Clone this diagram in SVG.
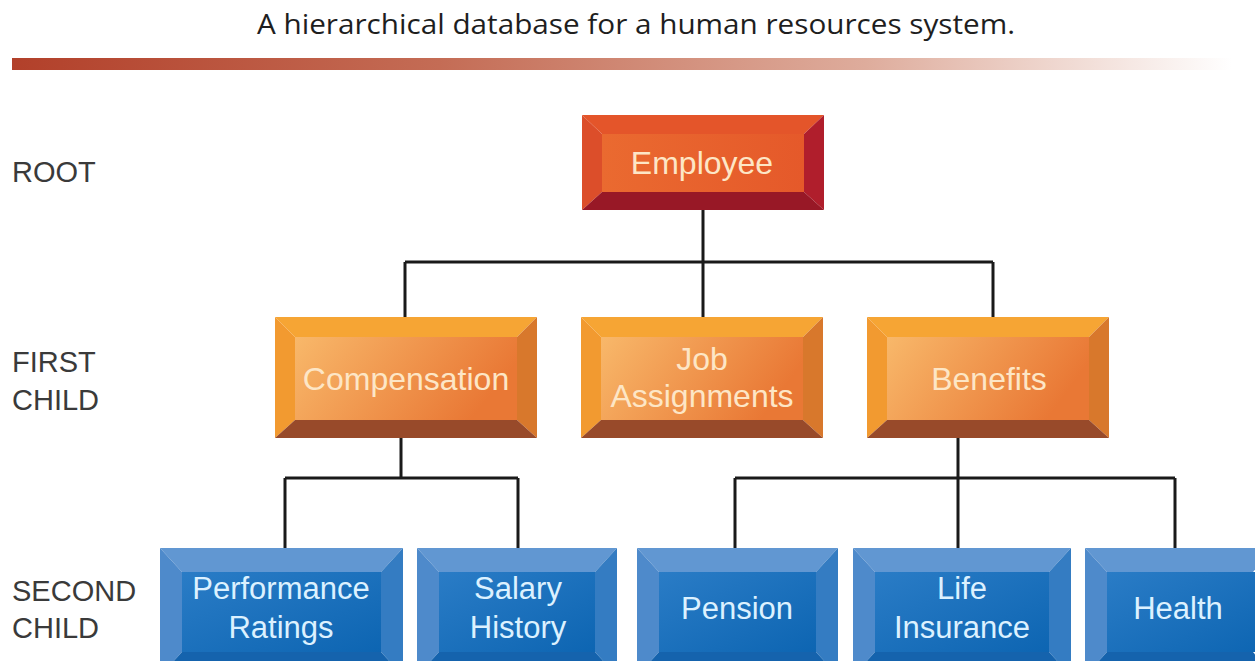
<svg xmlns="http://www.w3.org/2000/svg" width="1255" height="661" viewBox="0 0 1255 661">
<defs>
<linearGradient id="bar" x1="0" y1="0" x2="1" y2="0">
<stop offset="0" stop-color="#b2402a"/>
<stop offset="0.35" stop-color="#c46c55"/>
<stop offset="0.7" stop-color="#deac9c"/>
<stop offset="1" stop-color="#ffffff"/>
</linearGradient>
<linearGradient id="oface" x1="0" y1="0" x2="1" y2="0.3">
<stop offset="0" stop-color="#f8b86a"/>
<stop offset="1" stop-color="#e97835"/>
</linearGradient>
<linearGradient id="rface" x1="0" y1="0" x2="1" y2="0">
<stop offset="0" stop-color="#ea6a30"/>
<stop offset="1" stop-color="#e5592a"/>
</linearGradient>
<linearGradient id="bface" x1="0" y1="0" x2="1" y2="1">
<stop offset="0" stop-color="#2a7cc6"/>
<stop offset="1" stop-color="#0d65b2"/>
</linearGradient>
</defs>
<style>
.lbl{font-family:"Liberation Sans",Arial,sans-serif;font-size:29px;fill:#3a3a3a}
.title{font-family:"Open Sans","Liberation Sans",sans-serif;font-size:27px;fill:#1e1e1e}
.ot{font-family:"Liberation Sans",Arial,sans-serif;font-size:32px;fill:#fde6c6;text-anchor:middle}
.bt{font-family:"Liberation Sans",Arial,sans-serif;font-size:31px;fill:#dcf1ff;text-anchor:middle}
.line{stroke:#1a1a1a;stroke-width:3;fill:none}
.r-top{fill:#e4552a}.r-left{fill:#dc4e2a}.r-right{fill:#b01e2c}.r-bot{fill:#981826}
.o-top{fill:#f6a534}.o-left{fill:#f29a30}.o-right{fill:#d8782c}.o-bot{fill:#984a2a}
.b-top{fill:#6197d2}.b-left{fill:#4e8acb}.b-right{fill:#347cc2}.b-bot{fill:#1563ad}
</style>
<rect width="1255" height="661" fill="#ffffff"/>
<text class="title" x="636" y="34" text-anchor="middle" textLength="758" lengthAdjust="spacingAndGlyphs">A hierarchical database for a human resources system.</text>
<rect x="12" y="58" width="1220" height="12" fill="url(#bar)"/>
<text class="lbl" x="12" y="182">ROOT</text>
<text class="lbl" x="12" y="372">FIRST</text>
<text class="lbl" x="12" y="410">CHILD</text>
<text class="lbl" x="12" y="601">SECOND</text>
<text class="lbl" x="12" y="638">CHILD</text>
<g id="connectors">
<path class="line" d="M703 210V262M405 262H993M405 262V317M703 262V317M993 262V317"/>
<path class="line" d="M401 438V478M285 478H518M285 478V548M518 478V548"/>
<path class="line" d="M958 438V548M735 478H1175M735 478V548M1175 478V548"/>
</g>
<g id="employee">
<polygon class="r-top" points="582,115 824,115 804,134 602,134"/>
<polygon class="r-left" points="582,115 602,134 602,192 582,210"/>
<polygon class="r-right" points="824,115 824,210 804,192 804,134"/>
<polygon class="r-bot" points="582,210 602,192 804,192 824,210"/>
<rect x="602" y="134" width="202" height="58" fill="url(#rface)"/>
<text class="ot" x="702" y="174">Employee</text>
</g>
<g id="compensation">
<polygon class="o-top" points="275,317 537,317 517,337 295,337"/>
<polygon class="o-left" points="275,317 295,337 295,420 275,438"/>
<polygon class="o-right" points="537,317 537,438 517,420 517,337"/>
<polygon class="o-bot" points="275,438 295,420 517,420 537,438"/>
<rect x="295" y="337" width="222" height="83" fill="url(#oface)"/>
<text class="ot" x="406" y="390">Compensation</text>
</g>
<g id="job">
<polygon class="o-top" points="581,317 823,317 803,337 601,337"/>
<polygon class="o-left" points="581,317 601,337 601,420 581,438"/>
<polygon class="o-right" points="823,317 823,438 803,420 803,337"/>
<polygon class="o-bot" points="581,438 601,420 803,420 823,438"/>
<rect x="601" y="337" width="202" height="83" fill="url(#oface)"/>
<text class="ot" x="702" y="370">Job</text>
<text class="ot" x="702" y="407">Assignments</text>
</g>
<g id="benefits">
<polygon class="o-top" points="867,317 1109,317 1089,337 887,337"/>
<polygon class="o-left" points="867,317 887,337 887,420 867,438"/>
<polygon class="o-right" points="1109,317 1109,438 1089,420 1089,337"/>
<polygon class="o-bot" points="867,438 887,420 1089,420 1109,438"/>
<rect x="887" y="337" width="202" height="83" fill="url(#oface)"/>
<text class="ot" x="989" y="390">Benefits</text>
</g>
<g id="performance">
<polygon class="b-top" points="160,548 403,548 381,572 182,572"/>
<polygon class="b-left" points="160,548 182,572 182,652 160,676"/>
<polygon class="b-right" points="403,548 403,676 381,652 381,572"/>
<polygon class="b-bot" points="160,676 182,652 381,652 403,676"/>
<rect x="182" y="572" width="199" height="80" fill="url(#bface)"/>
<text class="bt" x="281" y="599">Performance</text>
<text class="bt" x="281" y="638">Ratings</text>
</g>
<g id="salary">
<polygon class="b-top" points="417,548 617,548 595,572 439,572"/>
<polygon class="b-left" points="417,548 439,572 439,652 417,676"/>
<polygon class="b-right" points="617,548 617,676 595,652 595,572"/>
<polygon class="b-bot" points="417,676 439,652 595,652 617,676"/>
<rect x="439" y="572" width="156" height="80" fill="url(#bface)"/>
<text class="bt" x="518" y="599">Salary</text>
<text class="bt" x="518" y="638">History</text>
</g>
<g id="pension">
<polygon class="b-top" points="637,548 838,548 816,572 659,572"/>
<polygon class="b-left" points="637,548 659,572 659,652 637,676"/>
<polygon class="b-right" points="838,548 838,676 816,652 816,572"/>
<polygon class="b-bot" points="637,676 659,652 816,652 838,676"/>
<rect x="659" y="572" width="157" height="80" fill="url(#bface)"/>
<text class="bt" x="737" y="619">Pension</text>
</g>
<g id="life">
<polygon class="b-top" points="853,548 1071,548 1049,572 875,572"/>
<polygon class="b-left" points="853,548 875,572 875,652 853,676"/>
<polygon class="b-right" points="1071,548 1071,676 1049,652 1049,572"/>
<polygon class="b-bot" points="853,676 875,652 1049,652 1071,676"/>
<rect x="875" y="572" width="174" height="80" fill="url(#bface)"/>
<text class="bt" x="962" y="599">Life</text>
<text class="bt" x="962" y="638">Insurance</text>
</g>
<g id="health">
<polygon class="b-top" points="1085,548 1275,548 1253,572 1107,572"/>
<polygon class="b-left" points="1085,548 1107,572 1107,652 1085,676"/>
<polygon class="b-bot" points="1085,676 1107,652 1253,652 1275,676"/>
<rect x="1107" y="572" width="160" height="80" fill="url(#bface)"/>
<text class="bt" x="1178" y="619">Health</text>
</g>
</svg>
